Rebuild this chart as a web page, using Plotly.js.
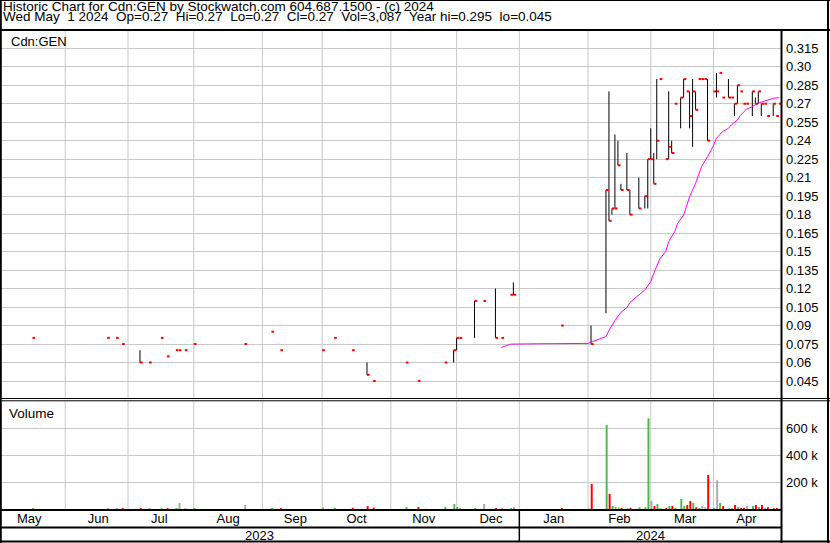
<!DOCTYPE html>
<html><head><meta charset="utf-8">
<script src="https://cdn.plot.ly/plotly-3.0.1.min.js"></script>
<style>html,body{margin:0;padding:0;background:#fff}#chart{width:830px;height:543px}</style>
</head><body><div id="chart"></div>
<script>
// ---- data ----
const dates = ['2023-05-17','2023-06-21','2023-06-26','2023-06-28','2023-07-06','2023-07-11','2023-07-17','2023-07-19','2023-07-24','2023-07-25',
 '2023-07-27','2023-08-01','2023-08-24','2023-09-06','2023-09-11','2023-09-29','2023-10-05','2023-10-13','2023-10-20','2023-10-24',
 '2023-11-08','2023-11-14','2023-11-27','2023-11-30','2023-12-01','2023-12-04','2023-12-11','2023-12-14','2023-12-20','2023-12-22',
 '2023-12-27','2023-12-28','2024-01-19','2024-02-02','2024-02-09','2024-02-12','2024-02-13','2024-02-14','2024-02-15','2024-02-16',
 '2024-02-20','2024-02-21','2024-02-26','2024-02-28','2024-02-29','2024-03-01','2024-03-04','2024-03-05','2024-03-06','2024-03-08',
 '2024-03-11','2024-03-12','2024-03-13','2024-03-15','2024-03-18','2024-03-19','2024-03-20','2024-03-21','2024-03-22','2024-03-25',
 '2024-03-26','2024-03-27','2024-03-28','2024-04-01','2024-04-02','2024-04-03','2024-04-04','2024-04-08','2024-04-09','2024-04-10',
 '2024-04-11','2024-04-12','2024-04-15','2024-04-16','2024-04-18','2024-04-19','2024-04-22','2024-04-23','2024-04-24','2024-04-25',
 '2024-04-29','2024-04-30','2024-05-01'];
const highs = [0.08,0.08,0.08,0.075,0.07,0.06,0.08,0.065,0.07,0.07,
 0.07,0.075,0.075,0.085,0.07,0.07,0.08,0.07,0.06,0.045,
 0.06,0.045,0.06,0.07,0.08,0.08,0.11,0.11,0.12,0.08,
 0.115,0.125,0.09,0.09,0.20,0.28,0.185,0.245,0.24,0.205,
 0.23,0.20,0.21,0.195,0.225,0.25,0.23,0.29,0.29,0.225,
 0.28,0.24,0.27,0.275,0.29,0.28,0.28,0.29,0.28,0.29,
 0.29,0.29,0.29,0.28,0.295,0.295,0.275,0.29,0.275,0.27,
 0.285,0.28,0.27,0.27,0.28,0.275,0.28,0.27,0.27,0.26,
 0.27,0.26,0.27];
const lows = [0.08,0.08,0.08,0.075,0.06,0.06,0.08,0.065,0.07,0.07,
 0.07,0.075,0.075,0.085,0.07,0.07,0.08,0.07,0.05,0.045,
 0.06,0.045,0.06,0.06,0.07,0.08,0.08,0.11,0.08,0.08,
 0.115,0.115,0.09,0.075,0.10,0.175,0.18,0.185,0.22,0.20,
 0.20,0.18,0.185,0.185,0.185,0.225,0.205,0.225,0.29,0.225,
 0.225,0.23,0.27,0.25,0.275,0.28,0.25,0.235,0.265,0.29,
 0.29,0.29,0.24,0.28,0.275,0.295,0.275,0.275,0.275,0.26,
 0.27,0.28,0.27,0.27,0.26,0.27,0.27,0.26,0.27,0.26,
 0.26,0.26,0.27];
const closes = [0.08,0.08,0.08,0.075,0.06,0.06,0.08,0.065,0.07,0.07,
 0.07,0.075,0.075,0.085,0.07,0.07,0.08,0.07,0.05,0.045,
 0.06,0.045,0.06,0.07,0.08,0.08,0.11,0.11,0.08,0.08,
 0.115,0.115,0.09,0.075,0.20,0.175,0.185,0.185,0.22,0.20,
 0.20,0.18,0.185,0.195,0.225,0.225,0.205,0.24,0.29,0.225,
 0.235,0.23,0.27,0.275,0.29,0.28,0.26,0.28,0.265,0.29,
 0.29,0.29,0.24,0.28,0.28,0.295,0.275,0.275,0.275,0.27,
 0.285,0.28,0.27,0.27,0.28,0.27,0.28,0.27,0.27,0.26,
 0.27,0.26,0.27];
const volumes = [7000,7000,7000,7000,7000,7000,7000,7000,7000,45000,
 7000,7000,30000,7000,7000,15000,10000,10000,22000,10000,
 15000,15000,15000,37000,15000,7000,7000,37000,7000,7000,
 7000,15000,7000,186000,625000,112000,22000,15000,10000,8000,
 8000,8000,13000,13000,674000,59000,22000,37000,8000,8000,
 22000,22000,8000,74000,22000,30000,59000,45000,13000,8000,
 22000,13000,253000,8000,213000,45000,22000,8000,8000,30000,
 13000,8000,8000,22000,22000,30000,13000,30000,8000,13000,
 8000,8000,3087];
const maDates = ['2023-12-22','2023-12-26','2023-12-27','2024-01-09','2024-02-01','2024-02-02','2024-02-09','2024-02-12','2024-02-14','2024-02-16',
 '2024-02-20','2024-02-21','2024-02-22','2024-02-27','2024-02-28','2024-03-01','2024-03-04','2024-03-06','2024-03-08','2024-03-11',
 '2024-03-13','2024-03-14','2024-03-18','2024-03-19','2024-03-20','2024-03-22','2024-03-26','2024-03-28','2024-04-01','2024-04-02',
 '2024-04-04','2024-04-08','2024-04-09','2024-04-11','2024-04-12','2024-04-16','2024-04-18','2024-04-22','2024-04-25','2024-04-29',
 '2024-05-01'];
const maValues = [0.0722,0.0738,0.0749,0.0752,0.0755,0.0766,0.081,0.086,0.094,0.1007,
 0.1045,0.1087,0.1107,0.1160,0.1188,0.1256,0.1324,0.1440,0.1500,0.1580,
 0.1662,0.1730,0.1797,0.187,0.1946,0.2054,0.219,0.2270,0.236,0.2420,
 0.2473,0.2501,0.2528,0.2568,0.2605,0.2655,0.2676,0.2705,0.2730,0.2744,
 0.2749];
const monthStarts = ['2023-06-01','2023-07-01','2023-08-01','2023-09-01','2023-10-01','2023-11-01','2023-12-01',
 '2024-01-01','2024-02-01','2024-03-01','2024-04-01'];
const priceTickVals = [0.045,0.06,0.075,0.09,0.105,0.12,0.135,0.15,0.165,0.18,0.195,0.21,0.225,0.24,0.255,0.27,0.285,0.30,0.315];
const priceTickText = ['0.045','0.06','0.075','0.09','0.105','0.12','0.135','0.15','0.165','0.18','0.195','0.21','0.225','0.24','0.255','0.27','0.285','0.30','0.315'];
const volTickVals = [200000,400000,600000];
const volTickText = ['200 k','400 k','600 k'];
const firstMonthLabel = 'May';
const yearLabels = ['2023','2024'];
const headerLine1 = 'Historic Chart for Cdn:GEN by Stockwatch.com 604.687.1500 - (c) 2024';
const headerLine2 = 'Wed May\u00a0 1 2024\u00a0 Op=0.27\u00a0 Hi=0.27\u00a0 Lo=0.27\u00a0 Cl=0.27\u00a0 Vol=3,087\u00a0 Year hi=0.295\u00a0 lo=0.045';

// ---- styling / construction ----
const FONT = 'Liberation Sans, Arial, sans-serif';
const GREEN = '#4cb84c', RED = '#ff0000', GRAY = '#aaaaaa', GRID = '#c8c8c8';
const DAY = 86400000;
function shiftDate(d, frac){
  const t = Date.parse(d + 'T00:00:00Z') + frac * DAY;
  return new Date(t).toISOString().slice(0,19).replace('T',' ');
}
// month gridline drawn at the last weekday on/before the month start (as the source does)
function gridDate(d){
  const dt = new Date(d + 'T00:00:00Z');
  const wd = dt.getUTCDay();
  const back = wd === 6 ? 1 : (wd === 0 ? 2 : 0);
  return shiftDate(d, -back);
}
const hlX = [], hlY = [];
dates.forEach((d,i) => { if (highs[i] !== lows[i]) { hlX.push(d, d, null); hlY.push(lows[i], highs[i], null); } });
const clX = [], clY = [];
dates.forEach((d,i) => { clX.push(d, shiftDate(d, 0.9), null); clY.push(closes[i], closes[i], null); });
const volColors = closes.map((c,i) => i === 0 ? GREEN : (c > closes[i-1] ? GREEN : (c < closes[i-1] ? RED : GRAY)));

const traces = [
  {type:'bar', x: dates, y: volumes, xaxis:'x', yaxis:'y', width: 0.66*DAY, offset: -0.1*DAY,
   marker:{color: volColors, line:{width:0}}, hoverinfo:'skip'},
  {type:'scatter', mode:'lines', x: hlX, y: hlY, xaxis:'x', yaxis:'y2',
   line:{color:'#000', width:1}, connectgaps:false, hoverinfo:'skip'},
  {type:'scatter', mode:'lines', x: maDates, y: maValues, xaxis:'x', yaxis:'y2',
   line:{color:'#ff00ff', width:1}, hoverinfo:'skip'},
  {type:'scatter', mode:'lines', x: clX, y: clY, xaxis:'x', yaxis:'y2',
   line:{color:RED, width:2}, connectgaps:false, hoverinfo:'skip'}
];

// pixel helpers for frame decorations (plot area: x 1..781, y 31..509)
const fx = p => (p - 1) / 780;
const fy = p => (509 - p) / 478;
function hline(y, x0, x1, w){ return {type:'line', xref:'paper', yref:'paper', x0: fx(x0), x1: fx(x1), y0: fy(y), y1: fy(y), line:{color:'#000', width:w}, layer:'above'}; }
function vline(x, y0, y1, w){ return {type:'line', xref:'paper', yref:'paper', x0: fx(x), x1: fx(x), y0: fy(y0), y1: fy(y1), line:{color:'#000', width:w}, layer:'above'}; }

const shapes = [];
monthStarts.forEach(m => {
  const g = gridDate(m);
  shapes.push({type:'line', xref:'x', yref:'paper', x0:g, x1:g, y0: fy(398), y1: 1, line:{color:GRID, width:1}, layer:'below'});
  shapes.push({type:'line', xref:'x', yref:'paper', x0:g, x1:g, y0: 0, y1: fy(401.5), line:{color:GRID, width:1}, layer:'below'});
});
shapes.push(
  hline(0.5, 0, 830, 1),
  hline(30, 0, 830, 2),
  hline(398.5, 0, 830, 1),
  hline(400.8, 0, 830, 1),
  hline(510, 0, 782, 2),
  hline(527.5, 0, 782, 2),
  hline(541.5, 0, 830, 2),
  vline(0.8, 0, 543, 2),
  vline(781.5, 30, 543, 2),
  vline(828, 0, 543, 2),
  {type:'line', xref:'x', yref:'paper', x0:'2024-01-01', x1:'2024-01-01', y0: fy(510), y1: fy(542), line:{color:'#000', width:1.5}, layer:'above'}
);

const annotations = [
  {xref:'paper', yref:'paper', x: fx(2), y: fy(6.3), xanchor:'left', yanchor:'middle', text: headerLine1, showarrow:false, borderpad:0, font:{size:13.5}},
  {xref:'paper', yref:'paper', x: fx(2), y: fy(16.5), xanchor:'left', yanchor:'middle', text: headerLine2, showarrow:false, borderpad:0, font:{size:13.5}},
  {xref:'paper', yref:'paper', x: fx(9), y: fy(42), xanchor:'left', yanchor:'middle', text:'Cdn:GEN', showarrow:false, font:{size:13}},
  {xref:'paper', yref:'paper', x: fx(7), y: fy(413.5), xanchor:'left', yanchor:'middle', text:'Volume', showarrow:false, font:{size:13.5}},
  {xref:'x', yref:'paper', x:'2023-05-16', y: fy(518.5), xanchor:'center', yanchor:'middle', text: firstMonthLabel, showarrow:false, font:{size:13}},
  {xref:'x', yref:'paper', x:'2023-08-31', y: fy(535), xanchor:'center', yanchor:'middle', text: yearLabels[0], showarrow:false, font:{size:13}},
  {xref:'x', yref:'paper', x:'2024-03-01', y: fy(535), xanchor:'center', yanchor:'middle', text: yearLabels[1], showarrow:false, font:{size:13}}
];

const layout = {
  width: 830, height: 543,
  margin: {l:1, r:49, t:31, b:34, pad:0},
  paper_bgcolor:'#fff', plot_bgcolor:'#fff',
  showlegend:false,
  font:{family: FONT, size:13, color:'#000'},
  xaxis:{type:'date', range:['2023-05-02 11:21','2024-05-01 14:24'],
    rangebreaks:[{bounds:['sat','mon']}],
    tick0:'2023-05-01', dtick:'M1', ticklabelmode:'period', tickformat:'%b',
    showgrid:false, ticks:'', showline:false, zeroline:false,
    anchor:'y', fixedrange:true, tickfont:{size:13, color:'#000'}},
  yaxis:{domain:[0, 0.2259], range:[0, 803000], side:'right', anchor:'x',
    tickvals: volTickVals, ticktext: volTickText, showgrid:true, gridcolor:GRID, gridwidth:1,
    ticks:'', zeroline:false, showline:false, fixedrange:true, ticklabelstandoff:4, tickfont:{size:13, color:'#000'}},
  yaxis2:{domain:[0.2322, 1], range:[0.0312, 0.3290], side:'right', anchor:'x',
    tickvals: priceTickVals, ticktext: priceTickText, showgrid:true, gridcolor:GRID, gridwidth:1,
    ticks:'', zeroline:false, showline:false, fixedrange:true, ticklabelstandoff:4, tickfont:{size:13, color:'#000'}},
  shapes: shapes,
  annotations: annotations
};

Plotly.newPlot('chart', traces, layout, {staticPlot:true, displayModeBar:false});
</script>
</body></html>
